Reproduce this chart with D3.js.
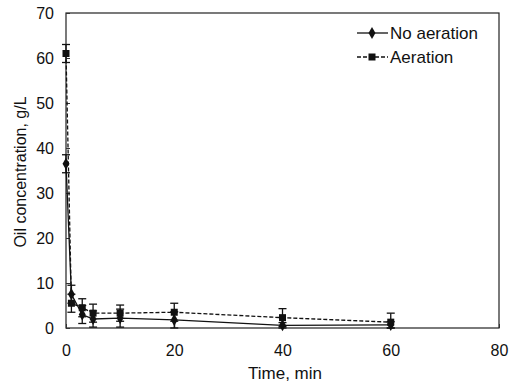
<!DOCTYPE html>
<html>
<head>
<meta charset="utf-8">
<script src="https://cdn.jsdelivr.net/npm/d3@7"></script>
<style>
  body { margin: 0; background: #fff; }
  svg text { font-family: "Liberation Sans", Arial, sans-serif; fill: #111; }
</style>
</head>
<body>
<div id="graph"></div>
<script>
// values
const times = [0, 1, 3, 5, 10, 20, 40, 60];
const noAeration = [36.5, 7.5, 3.0, 2.0, 2.2, 1.8, 0.6, 0.7];
const noAerationErr = [2, 2, 2, 1.8, 2, 1.8, 0.6, 0.7];
const aeration = [61, 5.5, 4.5, 3.3, 3.3, 3.5, 2.3, 1.3];
const aerationErr = [2, 2, 2, 2, 1.8, 2, 2, 2];
const xTicks = [0, 20, 40, 60, 80];
const yTicks = [0, 10, 20, 30, 40, 50, 60, 70];
const seriesNames = ["No aeration", "Aeration"];

(function() {
    const width = 510, height = 391,
        left = 66, right = 499, top = 13, bottom = 328;

    const x = d3.scaleLinear().domain([0, 80]).range([left, right]);
    const y = d3.scaleLinear().domain([0, 70]).range([bottom, top]);

    const svg = d3.select("#graph")
        .append("svg")
        .attr("width", width)
        .attr("height", height);

    // frame
    svg.append("rect")
        .attr("x", left).attr("y", top)
        .attr("width", right - left).attr("height", bottom - top)
        .attr("fill", "none").attr("stroke", "#222").attr("stroke-width", 1.2);

    const xAxis = d3.axisBottom(x).tickValues(xTicks).tickSize(-4).tickPadding(14);
    const yAxis = d3.axisLeft(y).tickValues(yTicks).tickSize(-4).tickPadding(14);

    const gx = svg.append("g")
        .attr("transform", "translate(0," + bottom + ")")
        .call(xAxis);
    const gy = svg.append("g")
        .attr("transform", "translate(" + left + ",0)")
        .call(yAxis);

    [gx, gy].forEach(function(g) {
        g.select(".domain").remove();
        g.selectAll(".tick line").attr("stroke", "#333");
        g.selectAll(".tick text").attr("font-size", 16).attr("fill", "#111");
    });
    gx.selectAll(".tick text").attr("dy", "0.8em").attr("y", 15);
    gy.selectAll(".tick text").attr("x", -12);

    svg.append("text")
        .attr("x", 285).attr("y", 379)
        .attr("text-anchor", "middle")
        .attr("font-size", 17)
        .text("Time, min");

    svg.append("text")
        .attr("transform", "translate(26,172) rotate(-90)")
        .attr("text-anchor", "middle")
        .attr("font-size", 16)
        .text("Oil concentration, g/L");

    const series = [
        {name: seriesNames[0], values: noAeration, err: noAerationErr, dash: null, marker: "diamond"},
        {name: seriesNames[1], values: aeration, err: aerationErr, dash: "4,2", marker: "square"}
    ];

    const line = d3.line()
        .x((d) => x(d.t))
        .y((d) => y(d.v));

    function drawMarker(g, type, cx, cy) {
        if (type === "diamond") {
            g.append("path")
                .attr("d", d3.symbol(d3.symbolDiamond, 42)())
                .attr("transform", "translate(" + cx + "," + cy + ")")
                .attr("fill", "#111");
        } else {
            g.append("rect")
                .attr("x", cx - 3.5).attr("y", cy - 3.5)
                .attr("width", 7).attr("height", 7)
                .attr("fill", "#111");
        }
    }

    series.forEach(function(s) {
        const pts = times.map((t, i) => ({t: t, v: s.values[i], e: s.err[i]}));
        const g = svg.append("g");

        g.append("path")
            .datum(pts)
            .attr("d", line)
            .attr("fill", "none")
            .attr("stroke", "#111")
            .attr("stroke-width", 1.3)
            .attr("stroke-dasharray", s.dash);

        // error bars
        pts.forEach(function(d) {
            const cx = x(d.t), y1 = y(d.v + d.e), y0 = y(Math.max(0, d.v - d.e));
            g.append("line").attr("x1", cx).attr("x2", cx).attr("y1", y1).attr("y2", y0)
                .attr("stroke", "#111").attr("stroke-width", 1.3);
            [y1, y0].forEach(function(yy) {
                g.append("line").attr("x1", cx - 4).attr("x2", cx + 4).attr("y1", yy).attr("y2", yy)
                    .attr("stroke", "#111").attr("stroke-width", 1.3);
            });
            drawMarker(g, s.marker, cx, y(d.v));
        });
    });

    // legend
    series.forEach(function(s, i) {
        const ly = 33 + i * 24;
        const g = svg.append("g");
        g.append("line")
            .attr("x1", 357).attr("x2", 388).attr("y1", ly).attr("y2", ly)
            .attr("stroke", "#111").attr("stroke-width", 1.3)
            .attr("stroke-dasharray", s.dash);
        drawMarker(g, s.marker, 372, ly);
        g.append("text")
            .attr("x", 390).attr("y", ly + 6)
            .attr("font-size", 17)
            .text(s.name);
    });
})();
</script>
</body>
</html>
